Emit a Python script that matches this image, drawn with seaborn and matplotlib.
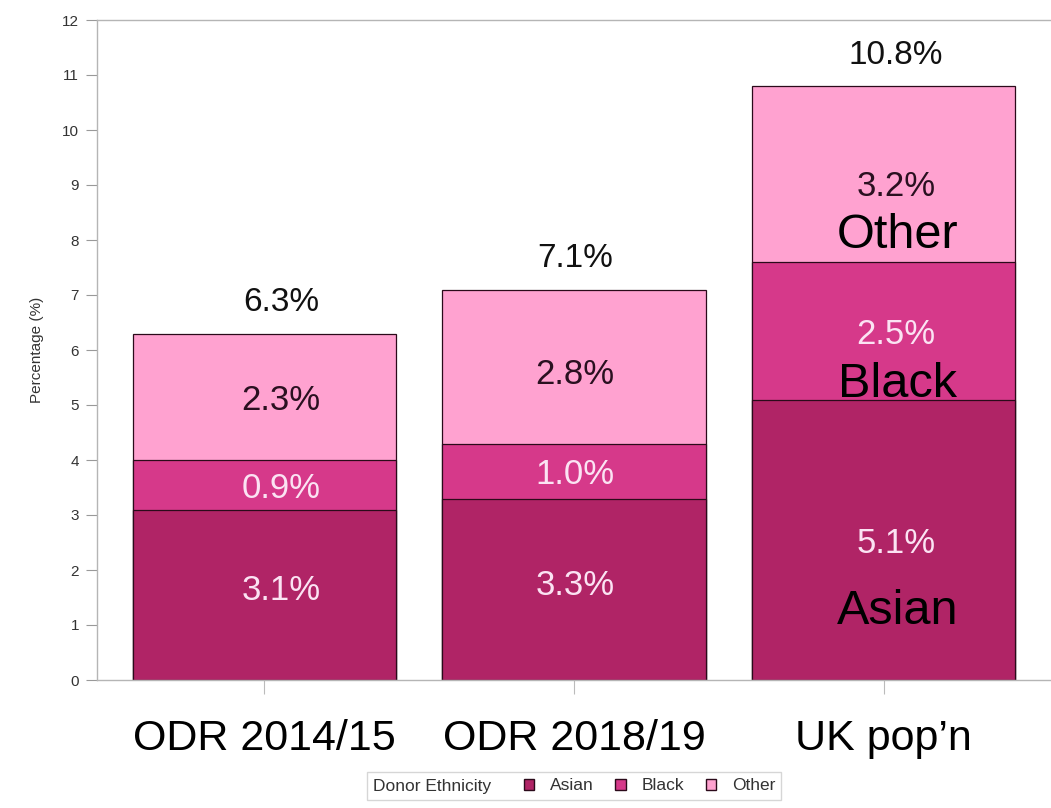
import matplotlib
matplotlib.use("Agg")
import matplotlib.pyplot as plt
from matplotlib.patches import Patch
from matplotlib.offsetbox import DrawingArea, HPacker
import seaborn as sns
import pandas as pd
import numpy as np

categories = ["ODR 2014/15", "ODR 2018/19", "UK pop\u2019n"]
groups = ["Asian", "Black", "Other"]
asian = [3.1, 3.3, 5.1]
black = [0.9, 1.0, 2.5]
other = [2.3, 2.8, 3.2]
yticks = list(range(0, 13))

colors = {"Asian": "#B02466", "Black": "#D6398A", "Other": "#FFA2D0"}
inner_text = {"Asian": "#FBE3F3", "Black": "#FBE3F3", "Other": "#2a1020"}

sns.set_theme(style="white")
plt.rcParams["font.family"] = ["Liberation Sans", "DejaVu Sans"]

df = pd.DataFrame({"cat": categories, "Asian": asian, "Black": black, "Other": other})
df["c1"] = df["Asian"]
df["c2"] = df["Asian"] + df["Black"]
df["c3"] = df["c2"] + df["Other"]

fig = plt.figure(figsize=(10.51, 8.08), dpi=100)
ax = fig.add_axes([97 / 1051, 1 - 680 / 808, 1 - 97 / 1051, (680 - 20) / 808])

edge = "#2b0a1a"
for col, g in [("c3", "Other"), ("c2", "Black"), ("c1", "Asian")]:
    sns.barplot(data=df, x="cat", y=col, order=categories, color=colors[g],
                width=0.85, edgecolor=edge, linewidth=0.9, saturation=1,
                errorbar=None, ax=ax)

ax.set_xlim(-0.54, 2.54)
ax.set_ylim(0, 12)
ax.set_yticks(yticks)
ax.set_yticklabels([str(t) for t in yticks], fontsize=11, color="#333333")
ax.set_xticks(range(len(categories)))
ax.set_xticklabels(categories, fontsize=31, color="black")
ax.tick_params(axis="y", direction="out", length=8, width=0.8, color="#999999", pad=5, left=True)
ax.tick_params(axis="x", direction="out", length=10, width=0.8, color="#bbbbbb", pad=18, bottom=True)
ax.set_xlabel("")
ax.set_ylabel("Percentage (%)", fontsize=11, color="#333333", labelpad=13)
for s in ["left", "top", "bottom"]:
    ax.spines[s].set_visible(True)
    ax.spines[s].set_color("#b5b5b5")
    ax.spines[s].set_linewidth(1.0)
ax.spines["right"].set_visible(False)

# layout tweaks for labels (x shift per bar, y shift per segment)
x_shift = [0.055, 0.003, 0.04]
y_shift = {(0, "Asian"): 0.15, (1, "Asian"): 0.14, (1, "Other"): -0.07,
           (2, "Other"): -0.15}
base_dy = -0.07
for i in range(len(categories)):
    bottoms = [0, df["c1"][i], df["c2"][i]]
    vals = [asian[i], black[i], other[i]]
    for b, v, g in zip(bottoms, vals, groups):
        y = b + v / 2 + base_dy + y_shift.get((i, g), 0)
        ax.text(i + x_shift[i], y, f"{v:.1f}%", ha="center", va="center", fontsize=25,
                color=inner_text[g])
    tot = df["c3"][i]
    ax.text(i + x_shift[i], tot + 0.56, f"{tot:.1f}%", ha="center", va="center", fontsize=24,
            color="#111111")

# group names inside UK bar
name_offset = {"Asian": 1.24, "Black": 0.28, "Other": 0.48}
ub = {"Asian": 0, "Black": df["c1"][2], "Other": df["c2"][2]}
for g in groups:
    ax.text(2 + 0.045, ub[g] + name_offset[g], g, ha="center", va="center",
            fontsize=35, color="black")

handles = [Patch(facecolor=colors[g], edgecolor=edge, linewidth=1.0) for g in groups]
leg = fig.legend(handles, groups, loc="center", bbox_to_anchor=(574 / 1051, 1 - 786 / 808),
                 ncol=3, title="Donor Ethnicity", fontsize=12.5, title_fontsize=12.5,
                 frameon=True, fancybox=False, edgecolor="#cccccc",
                 handlelength=0.6, handleheight=0.6, handletextpad=0.9,
                 columnspacing=1.25, borderpad=0.35, borderaxespad=0)
leg.get_frame().set_linewidth(1.0)
try:
    tbox = leg._legend_title_box
    hbox = leg._legend_handle_box
    leg._legend_box._children = [hbox]
    combo = HPacker(children=[tbox, DrawingArea(8, 1)], sep=0, pad=0, align="baseline")
    hbox._children.insert(0, combo)
except Exception:
    pass
for t in leg.get_texts():
    t.set_color("#333333")
leg.get_title().set_color("#333333")

fig.savefig("out.png", dpi=100, facecolor="white")
